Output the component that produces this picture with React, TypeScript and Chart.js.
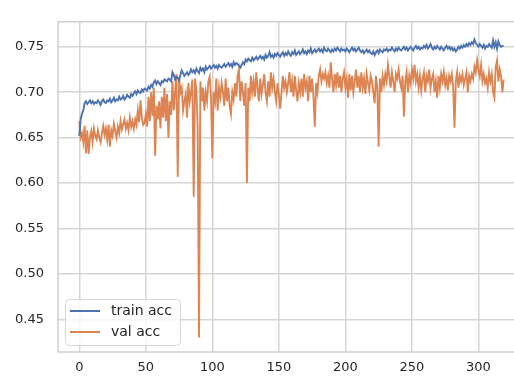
import React, { useEffect, useRef } from "react";
import { Chart, registerables } from "chart.js";

Chart.register(...registerables);

const xTicks = [0, 50, 100, 150, 200, 250, 300];
const yTicks = [0.45, 0.5, 0.55, 0.6, 0.65, 0.7, 0.75];

const trainAcc = [
  0.652, 0.670, 0.676, 0.680, 0.688, 0.690, 0.687, 0.689, 0.691, 0.688,
  0.690, 0.687, 0.689, 0.688, 0.691, 0.689, 0.686, 0.690, 0.692, 0.689,
  0.688, 0.691, 0.690, 0.693, 0.689, 0.691, 0.694, 0.690, 0.692, 0.691,
  0.695, 0.692, 0.693, 0.696, 0.692, 0.694, 0.697, 0.695, 0.694, 0.698,
  0.696, 0.699, 0.701, 0.698, 0.702, 0.700, 0.699, 0.703, 0.701, 0.704,
  0.703, 0.702, 0.706, 0.704, 0.708, 0.706, 0.711, 0.713, 0.709, 0.712,
  0.710, 0.708, 0.712, 0.711, 0.714, 0.713, 0.712, 0.715, 0.714, 0.712,
  0.722, 0.719, 0.714, 0.717, 0.716, 0.713, 0.719, 0.724, 0.721, 0.718,
  0.720, 0.722, 0.719, 0.721, 0.725, 0.722, 0.724, 0.721, 0.726, 0.723,
  0.721, 0.727, 0.724, 0.726, 0.722, 0.728, 0.725, 0.727, 0.729, 0.726,
  0.728, 0.730, 0.727, 0.729, 0.726, 0.730, 0.728, 0.727, 0.729, 0.731,
  0.728, 0.730, 0.732, 0.729, 0.731, 0.728, 0.733, 0.730, 0.732, 0.731,
  0.729, 0.727, 0.730, 0.733, 0.731, 0.736, 0.734, 0.737, 0.735, 0.734,
  0.738, 0.735, 0.737, 0.739, 0.736, 0.738, 0.740, 0.737, 0.739, 0.736,
  0.741, 0.738, 0.740, 0.744, 0.739, 0.741, 0.738, 0.742, 0.740, 0.743,
  0.741, 0.739, 0.742, 0.744, 0.740, 0.743, 0.741, 0.745, 0.742, 0.740,
  0.744, 0.742, 0.746, 0.741, 0.743, 0.745, 0.742, 0.744, 0.747, 0.743,
  0.745, 0.742, 0.746, 0.744, 0.748, 0.743, 0.745, 0.747, 0.744, 0.746,
  0.748, 0.745, 0.747, 0.744, 0.749, 0.746, 0.745, 0.748, 0.746, 0.744,
  0.747, 0.745, 0.748, 0.746, 0.749, 0.747, 0.745, 0.748, 0.746, 0.747,
  0.745, 0.748, 0.746, 0.744, 0.747, 0.749, 0.746, 0.748, 0.745, 0.747,
  0.749, 0.746, 0.744, 0.746, 0.743, 0.745, 0.747, 0.744, 0.746, 0.743,
  0.742, 0.745, 0.741, 0.744, 0.746, 0.743, 0.747, 0.745, 0.744, 0.747,
  0.746, 0.748, 0.745, 0.747, 0.746, 0.749, 0.747, 0.745, 0.748, 0.746,
  0.749, 0.747, 0.746, 0.748, 0.750, 0.747, 0.749, 0.746, 0.748, 0.750,
  0.748, 0.746, 0.749, 0.751, 0.748, 0.750, 0.747, 0.749, 0.748, 0.751,
  0.749, 0.752, 0.748, 0.750, 0.753, 0.749, 0.747, 0.750, 0.748, 0.751,
  0.749, 0.747, 0.750, 0.748, 0.746, 0.749, 0.751, 0.748, 0.750, 0.747,
  0.749, 0.746, 0.748, 0.745, 0.747, 0.750, 0.748, 0.751, 0.749, 0.752,
  0.750, 0.753, 0.751, 0.754, 0.752, 0.755, 0.753, 0.758, 0.754, 0.752,
  0.750, 0.753, 0.751, 0.749, 0.752, 0.748, 0.751, 0.750, 0.753, 0.751,
  0.749, 0.757, 0.750, 0.755, 0.748, 0.756, 0.752, 0.750, 0.751, 0.751,
];

const valAcc = [
  0.668, 0.650, 0.655, 0.645, 0.663, 0.633, 0.658, 0.632, 0.650, 0.657,
  0.645, 0.660, 0.652, 0.648, 0.658, 0.650, 0.645, 0.655, 0.663, 0.653,
  0.660, 0.648, 0.664, 0.640, 0.658, 0.652, 0.665, 0.657, 0.650, 0.662,
  0.655, 0.668, 0.659, 0.665, 0.670, 0.660, 0.666, 0.658, 0.672, 0.662,
  0.668, 0.660, 0.670, 0.664, 0.680, 0.667, 0.691, 0.672, 0.664, 0.666,
  0.676, 0.662, 0.695, 0.668, 0.700, 0.674, 0.705, 0.630, 0.685, 0.670,
  0.690, 0.660, 0.695, 0.672, 0.705, 0.668, 0.698, 0.650, 0.690, 0.675,
  0.712, 0.680, 0.700, 0.720, 0.607, 0.716, 0.700, 0.705, 0.680, 0.690,
  0.698, 0.672, 0.710, 0.690, 0.700, 0.714, 0.585, 0.715, 0.702, 0.660,
  0.430, 0.712, 0.690, 0.705, 0.680, 0.700, 0.690, 0.712, 0.717, 0.695,
  0.627, 0.700, 0.690, 0.715, 0.680, 0.705, 0.695, 0.710, 0.700, 0.685,
  0.715, 0.690, 0.705, 0.685, 0.676, 0.700, 0.692, 0.710, 0.695, 0.718,
  0.725, 0.690, 0.712, 0.700, 0.685, 0.710, 0.600, 0.705, 0.690, 0.718,
  0.700, 0.712, 0.695, 0.722, 0.705, 0.690, 0.715, 0.698, 0.708, 0.720,
  0.700, 0.690, 0.712, 0.695, 0.722, 0.705, 0.715, 0.700, 0.690, 0.710,
  0.698, 0.682, 0.700, 0.718, 0.705, 0.712, 0.700, 0.710, 0.722, 0.700,
  0.712, 0.695, 0.718, 0.702, 0.690, 0.710, 0.700, 0.715, 0.695, 0.720,
  0.705, 0.712, 0.690, 0.718, 0.700, 0.715, 0.695, 0.662, 0.710, 0.700,
  0.718, 0.725, 0.712, 0.720, 0.715, 0.722, 0.710, 0.718, 0.705, 0.733,
  0.715, 0.700, 0.720, 0.708, 0.722, 0.705, 0.718, 0.700, 0.715, 0.722,
  0.705, 0.715, 0.694, 0.720, 0.702, 0.718, 0.700, 0.712, 0.725, 0.705,
  0.718, 0.700, 0.722, 0.705, 0.715, 0.698, 0.720, 0.710, 0.702, 0.718,
  0.712, 0.700, 0.688, 0.718, 0.705, 0.640, 0.715, 0.700, 0.718, 0.708,
  0.720, 0.712, 0.730, 0.718, 0.705, 0.722, 0.712, 0.700, 0.720, 0.715,
  0.725, 0.712, 0.705, 0.718, 0.673, 0.712, 0.722, 0.700, 0.718, 0.710,
  0.725, 0.715, 0.730, 0.712, 0.720, 0.705, 0.718, 0.702, 0.715, 0.722,
  0.700, 0.718, 0.712, 0.725, 0.705, 0.715, 0.720, 0.700, 0.712, 0.694,
  0.718, 0.705, 0.720, 0.712, 0.722, 0.708, 0.716, 0.702, 0.718, 0.712,
  0.720, 0.706, 0.661, 0.712, 0.722, 0.705, 0.718, 0.712, 0.720, 0.708,
  0.715, 0.722, 0.700, 0.718, 0.712, 0.720, 0.715, 0.728, 0.722, 0.735,
  0.725, 0.718, 0.730, 0.712, 0.720, 0.710, 0.715, 0.705, 0.722, 0.712,
  0.720, 0.700, 0.694, 0.728, 0.735, 0.712, 0.725, 0.718, 0.700, 0.714,
];

const seriesNames = ["train acc", "val acc"];
const seriesColors = ["#4c72b0", "#dd8452"];

const FONT = "'DejaVu Sans', sans-serif";
const TEXT = "#262626";
const GRID = "#d5d5d5";

const framePlugin = {
  id: "frame",
  afterDraw(chart: any) {
    const { ctx, chartArea } = chart;
    ctx.save();
    ctx.strokeStyle = "#cfcfcf";
    ctx.lineWidth = 1.5;
    ctx.strokeRect(chartArea.left, chartArea.top, chartArea.right - chartArea.left, chartArea.bottom - chartArea.top);
    // legend
    const bx = 65.5, by = 299.5, bw = 115, bh = 46, r = 4;
    ctx.beginPath();
    ctx.moveTo(bx + r, by);
    ctx.lineTo(bx + bw - r, by);
    ctx.arcTo(bx + bw, by, bx + bw, by + r, r);
    ctx.lineTo(bx + bw, by + bh - r);
    ctx.arcTo(bx + bw, by + bh, bx + bw - r, by + bh, r);
    ctx.lineTo(bx + r, by + bh);
    ctx.arcTo(bx, by + bh, bx, by + bh - r, r);
    ctx.lineTo(bx, by + r);
    ctx.arcTo(bx, by, bx + r, by, r);
    ctx.closePath();
    ctx.fillStyle = "rgba(255,255,255,0.8)";
    ctx.fill();
    ctx.strokeStyle = "#d6d6d6";
    ctx.lineWidth = 1;
    ctx.stroke();
    ctx.font = `14px ${FONT}`;
    ctx.textBaseline = "middle";
    ctx.textAlign = "left";
    seriesNames.forEach((name, i) => {
      const y = 311 + i * 21;
      ctx.strokeStyle = seriesColors[i];
      ctx.lineWidth = 2;
      ctx.beginPath();
      ctx.moveTo(70, y);
      ctx.lineTo(100, y);
      ctx.stroke();
      ctx.fillStyle = TEXT;
      ctx.fillText(name, 111, y);
    });
    ctx.restore();
  },
};

export default function App() {
  const ref = useRef<HTMLCanvasElement | null>(null);
  useEffect(() => {
    const canvas = ref.current!;
    const chart = new Chart(canvas, {
      type: "line",
      data: {
        datasets: [trainAcc, valAcc].map((arr, i) => ({
          label: seriesNames[i],
          data: arr.map((v, x) => ({ x, y: v })),
          borderColor: seriesColors[i],
          backgroundColor: seriesColors[i],
          borderWidth: 1.9,
          pointRadius: 0,
          tension: 0,
          fill: false,
        })),
      },
      options: {
        animation: false,
        responsive: false,
        devicePixelRatio: 1,
        layout: { padding: { top: 8, left: 0, right: 0, bottom: 0 } },
        plugins: { legend: { display: false }, tooltip: { enabled: false } },
        scales: {
          x: {
            type: "linear",
            min: -16,
            max: 335,
            afterBuildTicks: (s: any) => {
              s.ticks = xTicks.map((v) => ({ value: v }));
            },
            afterFit: (s: any) => {
              s.height = 26;
            },
            grid: { color: GRID, lineWidth: 1.5, drawTicks: false },
            border: { display: false },
            ticks: { color: TEXT, font: { family: FONT, size: 13 }, padding: 8, maxRotation: 0, autoSkip: false },
          },
          y: {
            type: "linear",
            min: 0.4141,
            max: 0.7775,
            afterBuildTicks: (s: any) => {
              s.ticks = yTicks.map((v) => ({ value: v }));
            },
            afterFit: (s: any) => {
              s.width = 58;
            },
            grid: { color: GRID, lineWidth: 1.5, drawTicks: false },
            border: { display: false },
            ticks: {
              color: TEXT,
              font: { family: FONT, size: 13 },
              padding: 14,
              autoSkip: false,
              callback: (v: any) => Number(v).toFixed(2),
            },
          },
        },
      },
      plugins: [framePlugin],
    });
    return () => chart.destroy();
  }, []);
  return (
    <div style={{ position: "fixed", left: 0, top: 0, width: 514, height: 378, overflow: "hidden", background: "#fff" }}>
      <canvas ref={ref} width={525} height={378} style={{ width: 525, height: 378, display: "block" }} />
    </div>
  );
}
